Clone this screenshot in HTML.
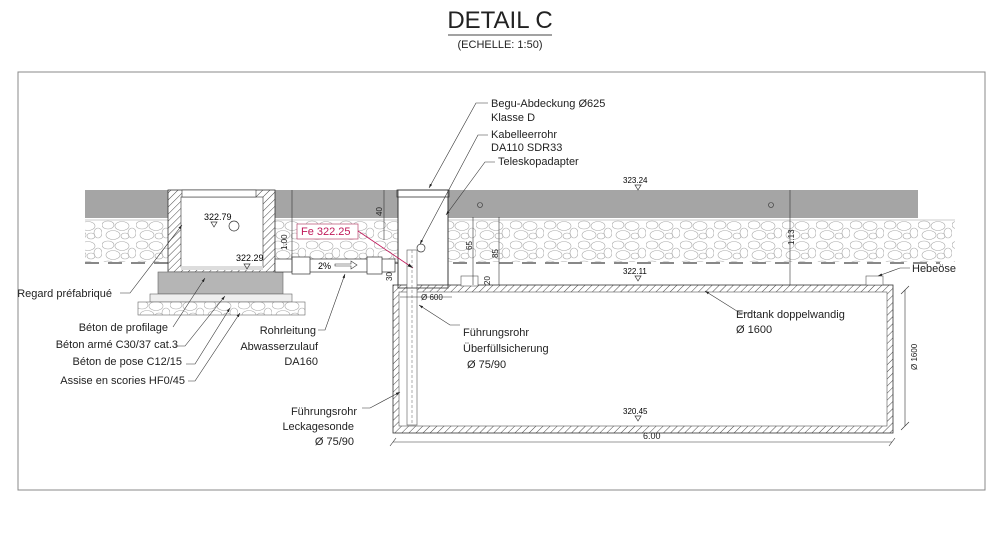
<!DOCTYPE html>
<html><head><meta charset="utf-8"><style>
html,body{margin:0;padding:0;background:#fff;}
svg{display:block;font-family:"Liberation Sans",sans-serif;}
</style></head><body>
<svg width="1000" height="550" viewBox="0 0 1000 550" xmlns="http://www.w3.org/2000/svg">
<defs>
<pattern id="hatch" width="5" height="5" patternUnits="userSpaceOnUse" patternTransform="rotate(45)">
<rect width="5" height="5" fill="#fff"/><line x1="0" y1="0" x2="0" y2="5" stroke="#333" stroke-width="0.9"/></pattern>
<pattern id="gravel" width="34" height="20" patternUnits="userSpaceOnUse">
<rect width="34" height="20" fill="#fff"/>
<ellipse cx="6" cy="5" rx="6" ry="4" fill="none" stroke="#aaa" stroke-width="0.6"/>
<ellipse cx="20" cy="6" rx="7" ry="4.5" fill="none" stroke="#aaa" stroke-width="0.6"/>
<ellipse cx="30" cy="13" rx="4" ry="5" fill="none" stroke="#aaa" stroke-width="0.6"/>
<ellipse cx="11" cy="15" rx="7" ry="4.5" fill="none" stroke="#aaa" stroke-width="0.6"/>
<ellipse cx="23" cy="16" rx="4" ry="3" fill="none" stroke="#aaa" stroke-width="0.6"/>
</pattern>
<marker id="ar" viewBox="0 0 10 10" refX="10" refY="5" markerWidth="7" markerHeight="7" orient="auto-start-reverse"><path d="M0 2 L10 5 L0 8z" fill="#222"/></marker>
</defs>
<text x="500" y="28" font-size="24" text-anchor="middle" fill="#222">DETAIL C</text>
<line x1="448" y1="35" x2="552" y2="35" stroke="#444" stroke-width="1"/>
<text x="500" y="48" font-size="11" text-anchor="middle" fill="#222">(ECHELLE: 1:50)</text>
<rect x="18" y="72" width="967" height="418" fill="none" stroke="#888" stroke-width="1"/>
<rect x="85" y="190" width="833" height="28" fill="#a5a5a5"/>
<rect x="85" y="220" width="870" height="42" fill="url(#gravel)"/>
<line x1="85" y1="220" x2="955" y2="220" stroke="#bbb" stroke-width="0.7"/>
<line x1="85" y1="263" x2="940" y2="263" stroke="#888" stroke-width="2" stroke-dasharray="14,9"/>
<rect x="168" y="190" width="107" height="82" fill="url(#hatch)" stroke="#333" stroke-width="0.8"/>
<rect x="181" y="197" width="82" height="70" fill="#fff" stroke="#333" stroke-width="0.6"/>
<rect x="182" y="190" width="74" height="7" fill="#fff" stroke="#333" stroke-width="0.6"/>
<rect x="181" y="266" width="82" height="4" fill="#ddd"/>
<circle cx="234" cy="226" r="5" fill="#fff" stroke="#333" stroke-width="0.7"/>
<text x="204" y="220" font-size="9">322.79</text><path d="M211 222 h6 l-3 5z" fill="none" stroke="#333" stroke-width="0.7"/>
<text x="236" y="261" font-size="9">322.29</text><path d="M244 264 h6 l-3 5z" fill="none" stroke="#333" stroke-width="0.7"/>
<rect x="158" y="272" width="125" height="22" fill="#b5b5b5" stroke="#666" stroke-width="0.6"/>
<rect x="150" y="294" width="142" height="8" fill="#eee" stroke="#666" stroke-width="0.6"/>
<rect x="138" y="302" width="167" height="13" fill="url(#gravel)" stroke="#666" stroke-width="0.6"/>
<rect x="275" y="259" width="120" height="13" fill="#fff" stroke="#333" stroke-width="0.7"/>
<rect x="292" y="257" width="18" height="17" fill="#fff" stroke="#333" stroke-width="0.7"/>
<rect x="367" y="257" width="15" height="17" fill="#fff" stroke="#333" stroke-width="0.7"/>
<text x="318" y="269" font-size="9">2%</text>
<path d="M335 264 h16 v-3 l6 4 l-6 4 v-3 h-16z" fill="#fff" stroke="#333" stroke-width="0.6"/>
<rect x="398" y="196" width="50" height="94" fill="#fff" stroke="#333" stroke-width="0.8"/>
<rect x="397" y="190" width="52" height="7" fill="#fff" stroke="#333" stroke-width="0.8"/>
<rect x="393" y="285" width="500" height="148" fill="url(#hatch)" stroke="#333" stroke-width="0.8"/>
<rect x="399" y="292" width="488" height="134" fill="#fff" stroke="#555" stroke-width="0.6"/>
<rect x="407" y="250" width="10" height="175" fill="#fff" stroke="#555" stroke-width="0.6"/>
<line x1="412" y1="250" x2="412" y2="425" stroke="#777" stroke-dasharray="3,2" stroke-width="0.6"/>
<circle cx="421" cy="248" r="4" fill="#fff" stroke="#333" stroke-width="0.7"/>
<rect x="398" y="190" width="50" height="98" fill="none" stroke="#333" stroke-width="0.8"/>
<rect x="461" y="276" width="17" height="10" fill="#fff" stroke="#555" stroke-width="0.6"/>
<rect x="866" y="276" width="17" height="9" fill="#fff" stroke="#555" stroke-width="0.6"/>
<text x="623" y="274" font-size="8">322.11</text><path d="M635 276 h6 l-3 5z" fill="none" stroke="#333" stroke-width="0.7"/>
<text x="623" y="183" font-size="8">323.24</text><path d="M635 185 h6 l-3 5z" fill="none" stroke="#333" stroke-width="0.7"/>
<text x="623" y="414" font-size="8">320.45</text><path d="M635 416 h6 l-3 5z" fill="none" stroke="#333" stroke-width="0.7"/>
<circle cx="480" cy="205" r="2.5" fill="none" stroke="#333" stroke-width="0.6"/>
<circle cx="771" cy="205" r="2.5" fill="none" stroke="#333" stroke-width="0.6"/>
<g stroke="#333" stroke-width="0.6">
<line x1="393" y1="442" x2="892" y2="442"/><line x1="390" y1="446" x2="396" y2="438"/><line x1="889" y1="446" x2="895" y2="438"/>
<line x1="905" y1="290" x2="905" y2="426"/><line x1="901" y1="294" x2="909" y2="286"/><line x1="901" y1="430" x2="909" y2="422"/>
<line x1="790" y1="190" x2="790" y2="285"/>
<line x1="292" y1="190" x2="292" y2="272"/>
<line x1="473" y1="217" x2="473" y2="285"/><line x1="499" y1="217" x2="499" y2="285"/>
<line x1="384" y1="190" x2="384" y2="240"/>
<line x1="400" y1="297" x2="452" y2="297"/>
</g>
<g font-size="8" fill="#222">
<text x="643" y="439" font-size="9">6.00</text>
<text transform="translate(917,370) rotate(-90)">Ø 1600</text>
<text transform="translate(794,245) rotate(-90)">1.13</text>
<text transform="translate(287,250) rotate(-90)">1.00</text>
<text transform="translate(382,216) rotate(-90)">40</text>
<text transform="translate(472,250) rotate(-90)">65</text>
<text transform="translate(498,258) rotate(-90)">85</text>
<text transform="translate(490,285) rotate(-90)">20</text>
<text transform="translate(392,281) rotate(-90)">30</text>
<text x="421" y="300">Ø 600</text>
</g>
<rect x="297" y="224" width="61" height="15" fill="#fff" stroke="#c06080" stroke-width="0.8"/>
<text x="301" y="235" font-size="11" fill="#c0185a">Fe 322.25</text>
<line x1="358" y1="231" x2="413" y2="268" stroke="#c0185a" stroke-width="0.8" marker-end="url(#ar)"/>
<g stroke="#333" stroke-width="0.6" fill="none" marker-start="url(#ar)">
<path d="M429 188 L476 103 H488"/><path d="M420 244 L478 135 H488"/><path d="M446 215 L485 162 H495"/>
<path d="M182 225 L130 293 H120"/>
<path d="M205 278 L173 327"/><path d="M225 296 L185 346 H175"/><path d="M230 308 L195 364 H186"/><path d="M240 313 L195 381 H188"/>
<path d="M345 274 L325 330 H318"/>
<path d="M419 305 L450 325 H460"/>
<path d="M400 392 L370 408 H362"/>
<path d="M705 291 L740 313 H752"/>
<path d="M878 276 L900 268 H910"/>
</g>
<g font-size="11" fill="#222">
<text x="491" y="107">Begu-Abdeckung Ø625</text>
<text x="491" y="121">Klasse D</text>
<text x="491" y="138">Kabelleerrohr</text>
<text x="491" y="151">DA110 SDR33</text>
<text x="498" y="165">Teleskopadapter</text>
<text x="912" y="272">Hebeöse</text>
<text x="112" y="297" text-anchor="end">Regard préfabriqué</text>
<text x="168" y="331" text-anchor="end">Béton de profilage</text>
<text x="178" y="348" text-anchor="end">Béton armé C30/37 cat.3</text>
<text x="182" y="365" text-anchor="end">Béton de pose C12/15</text>
<text x="185" y="384" text-anchor="end">Assise en scories HF0/45</text>
<text x="316" y="334" text-anchor="end">Rohrleitung</text>
<text x="318" y="350" text-anchor="end">Abwasserzulauf</text>
<text x="318" y="365" text-anchor="end">DA160</text>
<text x="463" y="336">Führungsrohr</text>
<text x="463" y="352">Überfüllsicherung</text>
<text x="467" y="368">Ø 75/90</text>
<text x="357" y="415" text-anchor="end">Führungsrohr</text>
<text x="354" y="430" text-anchor="end">Leckagesonde</text>
<text x="354" y="445" text-anchor="end">Ø 75/90</text>
<text x="736" y="318">Erdtank doppelwandig</text>
<text x="736" y="333">Ø 1600</text>
</g>
</svg>
</body></html>
